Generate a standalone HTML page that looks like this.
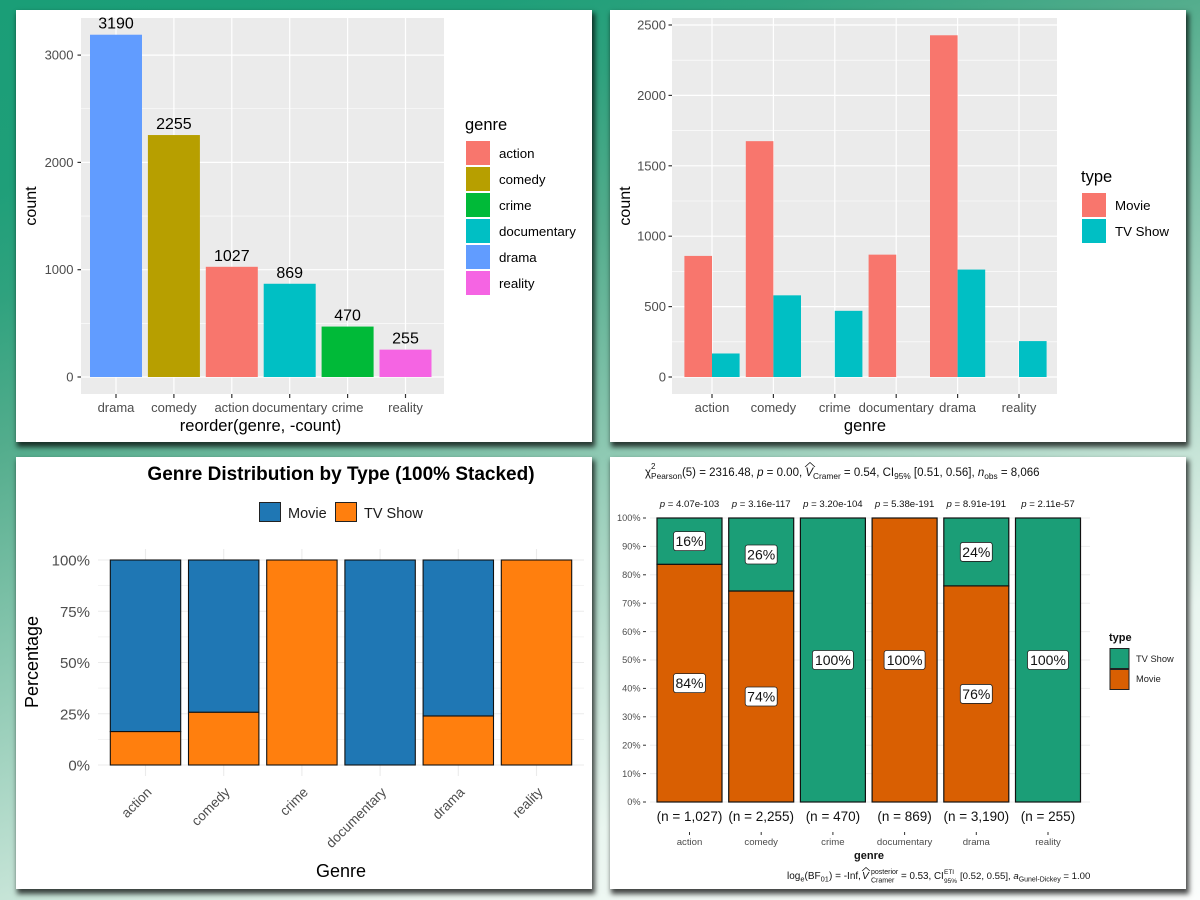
<!DOCTYPE html>
<html lang="en">
<head>
<meta charset="utf-8">
<title>Genre charts</title>
<style>
html,body{margin:0;padding:0;width:1200px;height:900px;overflow:hidden}
body{position:relative;background:linear-gradient(159.4deg,#1a9e77 0%,#1f9f79 14%,#2fa27e 22%,#54ad8d 33.4%,#c6e4d7 66.6%,#eaf6f0 78%,#fbfdfc 100%);font-family:"Liberation Sans",sans-serif}
.panel{position:absolute;background:#fff;width:576px;height:432px;box-shadow:2px 4px 5px 1px rgba(0,0,0,.72)}
svg{position:absolute;left:0;top:0}
text{font-family:"Liberation Sans",sans-serif}
</style>
</head>
<body>
<div class="panel" style="left:16px;top:10px"></div>
<div class="panel" style="left:610px;top:10px"></div>
<div class="panel" style="left:16px;top:457px"></div>
<div class="panel" style="left:610px;top:457px"></div>

<svg id="s" width="1200" height="900" viewBox="0 0 1200 900">
  <g id="c1">
    <rect x="81" y="18" width="363" height="376" fill="#ebebeb"/>
  </g>
  <text x="36" y="206" font-size="16" text-anchor="middle" transform="rotate(-90 36 206)" fill="#000">count</text>
  <text x="260.500" y="431" font-size="16.500" text-anchor="middle" fill="#000">reorder(genre, -count)</text>
  <text x="465" y="130" font-size="16.500" fill="#000">genre</text>
  <g id="l1"></g>

  <g id="c2">
    <rect x="672" y="18" width="385" height="376" fill="#ebebeb"/>
  </g>
  <text x="630" y="206" font-size="16" text-anchor="middle" transform="rotate(-90 630 206)" fill="#000">count</text>
  <text x="865" y="431" font-size="16.500" text-anchor="middle" fill="#000">genre</text>
  <text x="1081" y="182" font-size="16.500" fill="#000">type</text>
  <rect x="1082" y="193" width="24" height="24" fill="#f8766d"/>
  <rect x="1082" y="219" width="24" height="24" fill="#00bfc4"/>
  <text x="1115" y="210" font-size="13.300" fill="#000">Movie</text>
  <text x="1115" y="236" font-size="13.300" fill="#000">TV Show</text>

  <text x="341" y="480" font-size="19" font-weight="bold" text-anchor="middle" fill="#000">Genre Distribution by Type (100% Stacked)</text>
  <rect x="259.500" y="502.500" width="21" height="19" fill="#1f77b4" stroke="#222"/>
  <text x="288" y="518" font-size="14.500" fill="#1a1a1a">Movie</text>
  <rect x="335.500" y="502.500" width="21" height="19" fill="#ff7f0e" stroke="#222"/>
  <text x="364" y="518" font-size="14.500" fill="#1a1a1a">TV Show</text>
  <g id="c3"></g>
  <text x="38" y="662" font-size="18" text-anchor="middle" transform="rotate(-90 38 662)" fill="#000">Percentage</text>
  <text x="341" y="877" font-size="18" text-anchor="middle" fill="#000">Genre</text>

  <text x="645" y="476" font-size="11.500" fill="#111">χ<tspan dy="3" font-size="8.300">Pearson</tspan><tspan dy="-3">(5) = 2316.48, </tspan><tspan font-style="italic">p</tspan> = 0.00, <tspan font-style="italic">V</tspan><tspan dy="3" font-size="8.300">Cramer</tspan><tspan dy="-3"> = 0.54, CI</tspan><tspan dy="3" font-size="8.300">95%</tspan><tspan dy="-3"> [0.51, 0.56], </tspan><tspan font-style="italic">n</tspan><tspan dy="3" font-size="8.300">obs</tspan><tspan dy="-3"> = 8,066</tspan></text>
  <text x="651" y="469" font-size="8" fill="#111">2</text>
  <path d="M805 467 L810 462.500 L815 467" fill="none" stroke="#111" stroke-width=".8"/>
  <g id="c4"></g>
  <text x="869" y="859" font-size="11" font-weight="bold" text-anchor="middle" fill="#111">genre</text>
  <text x="787" y="879" font-size="10" fill="#111">log<tspan dy="2.500" font-size="7.500">e</tspan><tspan dy="-2.500">(BF</tspan><tspan dy="2.500" font-size="7.500">01</tspan><tspan dy="-2.500">) = -Inf,</tspan></text>
  <text x="862" y="879" font-size="10.200" font-style="italic" fill="#111">V</text>
  <text x="871" y="874" font-size="7" fill="#111">posterior</text>
  <text x="871" y="882.500" font-size="7" fill="#111">Cramer</text>
  <text x="901" y="879" font-size="9.800" fill="#111">= 0.53, CI</text>
  <text x="944" y="874" font-size="6.500" fill="#111">ETI</text>
  <text x="944" y="883" font-size="6.500" fill="#111">95%</text>
  <text x="960" y="879" font-size="9.600" fill="#111">[0.52, 0.55], <tspan font-style="italic">a</tspan><tspan dy="2.500" font-size="7">Gunel-Dickey</tspan><tspan dy="-2.500"> = 1.00</tspan></text>
  <path d="M862 871 L866 867.500 L870 871" fill="none" stroke="#111" stroke-width=".7"/>
  <text x="1109" y="641" font-size="11" font-weight="bold" fill="#111">type</text>
  <rect x="1110" y="648.500" width="19" height="20" fill="#1b9e77" stroke="#222"/>
  <rect x="1110" y="669.500" width="19" height="20" fill="#d95f02" stroke="#222"/>
  <text x="1136" y="662" font-size="9.300" fill="#222">TV Show</text>
  <text x="1136" y="682" font-size="9.300" fill="#222">Movie</text>
</svg>

<script>
// Chart 1: counts by genre, ordered by count
const c1Categories = ['drama', 'comedy', 'action', 'documentary', 'crime', 'reality'];
const c1Counts = [3190, 2255, 1027, 869, 470, 255];
const c1YTicks = [0, 1000, 2000, 3000];
const c1YMinor = [500, 1500, 2500];
const c1LegendGenres = ['action', 'comedy', 'crime', 'documentary', 'drama', 'reality'];

// Chart 2: counts by genre and type
const c2Categories = ['action', 'comedy', 'crime', 'documentary', 'drama', 'reality'];
const c2Movie = [860, 1675, 0, 869, 2427, 0];
const c2TvShow = [167, 580, 470, 0, 763, 255];
const c2YTicks = [0, 500, 1000, 1500, 2000, 2500];
const c2YMinor = [250, 750, 1250, 1750, 2250];

// Chart 3: percentage stack
const c3Categories = ['action', 'comedy', 'crime', 'documentary', 'drama', 'reality'];
const c3TvShowPct = [16.3, 25.7, 100, 0, 23.9, 100];
const c3YTicks = [0, 25, 50, 75, 100];
const c3YMinor = [12.5, 37.5, 62.5, 87.5];

// Chart 4: statistics stack
const c4Categories = ['action', 'comedy', 'crime', 'documentary', 'drama', 'reality'];
const c4MoviePct = [83.7, 74.3, 0, 100, 76.1, 0];
const c4PValues = ['4.07e-103', '3.16e-117', '3.20e-104', '5.38e-191', '8.91e-191', '2.11e-57'];
const c4NLabels = ['1,027', '2,255', '470', '869', '3,190', '255'];
const c4YTicks = [0, 10, 20, 30, 40, 50, 60, 70, 80, 90, 100];

const SVGNS = 'http://www.w3.org/2000/svg';
const GENRE_COLORS = {action:'#f8766d', comedy:'#b79f00', crime:'#00ba38', documentary:'#00bfc4', drama:'#619cff', reality:'#f564e3'};

function mk(parent, tag, attrs, txt) {
  const n = document.createElementNS(SVGNS, tag);
  for (const k in attrs) n.setAttribute(k, attrs[k]);
  if (txt !== undefined) n.textContent = txt;
  parent.appendChild(n);
  return n;
}
let el;

/* ---------- chart 1 ---------- */
const g1 = document.getElementById('c1');
const x1 = i => 116 + i * 57.9;
const y1 = v => 377 - v * 0.1073;
c1YMinor.forEach(v => {
  el = mk(g1, 'line', {x1:81, x2:444, y1:y1(v), y2:y1(v), stroke:'#fff', 'stroke-width':.6});
  
  
});
c1YTicks.forEach(v => {
  el = mk(g1, 'line', {x1:81, x2:444, y1:y1(v), y2:y1(v), stroke:'#fff', 'stroke-width':1.2});
  
  
  el = mk(g1, 'line', {x1:77.5, x2:81, y1:y1(v), y2:y1(v), stroke:'#333', 'stroke-width':1.2});
  
  
  el = mk(g1, 'text', {x:73.5, y:y1(v) + 4.5, 'font-size':13, 'text-anchor':'end', fill:'#4d4d4d'}, v);
  
  
});
c1Categories.forEach((c, i) => {
  el = mk(g1, 'line', {x1:x1(i), x2:x1(i), y1:18, y2:394, stroke:'#fff', 'stroke-width':1.2});
  
  
  el = mk(g1, 'line', {x1:x1(i), x2:x1(i), y1:394, y2:398, stroke:'#333', 'stroke-width':1.2});
  
  
  el = mk(g1, 'text', {x:x1(i), y:412, 'font-size':13, 'text-anchor':'middle', fill:'#4d4d4d'}, c);
  
  
});
c1Categories.forEach((c, i) => {
  el = mk(g1, 'rect', {x:x1(i) - 26, y:y1(c1Counts[i]), width:52, height:y1(0) - y1(c1Counts[i]), fill:GENRE_COLORS[c]});
  
  
  el = mk(g1, 'text', {x:x1(i), y:y1(c1Counts[i]) - 6, 'font-size':16, 'text-anchor':'middle', fill:'#000'}, c1Counts[i]);
  
  
});
const l1 = document.getElementById('l1');
c1LegendGenres.forEach((c, i) => {
  el = mk(l1, 'rect', {x:466, y:141 + i * 26, width:24, height:24, fill:GENRE_COLORS[c]});
  
  
  el = mk(l1, 'text', {x:499, y:158 + i * 26, 'font-size':13.3, fill:'#000'}, c);
  
  
});

/* ---------- chart 2 ---------- */
const g2 = document.getElementById('c2');
const x2 = i => 712 + i * 61.4;
const y2 = v => 377 - v * 0.1408;
const W2 = 27.6;
c2YMinor.forEach(v => {
  el = mk(g2, 'line', {x1:672, x2:1057, y1:y2(v), y2:y2(v), stroke:'#fff', 'stroke-width':.6});
  
  
});
c2YTicks.forEach(v => {
  el = mk(g2, 'line', {x1:672, x2:1057, y1:y2(v), y2:y2(v), stroke:'#fff', 'stroke-width':1.2});
  
  
  el = mk(g2, 'line', {x1:668.5, x2:672, y1:y2(v), y2:y2(v), stroke:'#333', 'stroke-width':1.2});
  
  
  el = mk(g2, 'text', {x:666, y:y2(v) + 4.5, 'font-size':13, 'text-anchor':'end', fill:'#4d4d4d'}, v);
  
  
});
c2Categories.forEach((c, i) => {
  el = mk(g2, 'line', {x1:x2(i), x2:x2(i), y1:18, y2:394, stroke:'#fff', 'stroke-width':1.2});
  
  
  el = mk(g2, 'line', {x1:x2(i), x2:x2(i), y1:394, y2:398, stroke:'#333', 'stroke-width':1.2});
  
  
  el = mk(g2, 'text', {x:x2(i), y:412, 'font-size':13, 'text-anchor':'middle', fill:'#4d4d4d'}, c);
  
  
});
c2Categories.forEach((c, i) => {
  if (c2Movie[i] > 0) {
    el = mk(g2, 'rect', {x:x2(i) - W2, y:y2(c2Movie[i]), width:W2, height:y2(0) - y2(c2Movie[i]), fill:'#f8766d'});
    
    
  }
  if (c2TvShow[i] > 0) {
    el = mk(g2, 'rect', {x:x2(i), y:y2(c2TvShow[i]), width:W2, height:y2(0) - y2(c2TvShow[i]), fill:'#00bfc4'});
    
    
  }
});

/* ---------- chart 3 ---------- */
const g3 = document.getElementById('c3');
const x3 = i => 145.5 + i * 78.2;
const y3 = v => 765 - v * 2.05;
c3YMinor.forEach(v => {
  el = mk(g3, 'line', {x1:98, x2:584, y1:y3(v), y2:y3(v), stroke:'#f0f0f0', 'stroke-width':.7});
  
  
});
c3YTicks.forEach(v => {
  el = mk(g3, 'line', {x1:98, x2:584, y1:y3(v), y2:y3(v), stroke:'#ebebeb', 'stroke-width':1.1});
  
  
  el = mk(g3, 'text', {x:90, y:y3(v) + 5.5, 'font-size':15, 'text-anchor':'end', fill:'#4d4d4d'}, v + '%');
  
  
});
c3Categories.forEach((c, i) => {
  el = mk(g3, 'line', {x1:x3(i), x2:x3(i), y1:549, y2:776, stroke:'#ebebeb', 'stroke-width':1.1});
  
  
  const tx = x3(i) + 7, ty = 793;
  el = mk(g3, 'text', {x:tx, y:ty, 'font-size':13.6, 'text-anchor':'end', fill:'#4d4d4d', transform:'rotate(-45 ' + tx + ' ' + ty + ')'}, c);
  
  
});
c3Categories.forEach((c, i) => {
  if (c3TvShowPct[i] < 100) {
    el = mk(g3, 'rect', {x:x3(i) - 35.2, y:y3(100), width:70.4, height:y3(c3TvShowPct[i]) - y3(100), fill:'#1f77b4', stroke:'#111', 'stroke-width':1.1});
    
    
  }
  if (c3TvShowPct[i] > 0) {
    el = mk(g3, 'rect', {x:x3(i) - 35.2, y:y3(c3TvShowPct[i]), width:70.4, height:y3(0) - y3(c3TvShowPct[i]), fill:'#ff7f0e', stroke:'#111', 'stroke-width':1.1});
    
    
  }
});

/* ---------- chart 4 ---------- */
const g4 = document.getElementById('c4');
const x4 = i => 689.5 + i * 71.7;
const y4 = v => 802 - v * 2.84;
const W4 = 65;
function pctLabel(cx, cy, pct) {
  const txt = Math.round(pct) + '%';
  const w = txt.length > 3 ? 41 : 32;
  el = mk(g4, 'rect', {x:cx - w / 2, y:cy - 9.5, width:w, height:19, rx:2.5, fill:'#fff', stroke:'#222', 'stroke-width':.8});
  
  
  el = mk(g4, 'text', {x:cx, y:cy + 5, 'font-size':14, 'text-anchor':'middle', fill:'#111'}, txt);
  
  
}
c4YTicks.forEach(v => {
  el = mk(g4, 'line', {x1:650, x2:1090, y1:y4(v), y2:y4(v), stroke:'#eeeeee', 'stroke-width':1});
  
  
  el = mk(g4, 'line', {x1:643, x2:646, y1:y4(v), y2:y4(v), stroke:'#333', 'stroke-width':1});
  
  
  el = mk(g4, 'text', {x:640.5, y:y4(v) + 3.2, 'font-size':9.2, 'text-anchor':'end', fill:'#4d4d4d'}, v + '%');
  
  
});
c4Categories.forEach((c, i) => {
  const m = c4MoviePct[i];
  const left = x4(i) - W4 / 2;
  if (m > 0) {
    el = mk(g4, 'rect', {x:left, y:y4(m), width:W4, height:y4(0) - y4(m), fill:'#d95f02', stroke:'#111', 'stroke-width':1.2});
    
    
  }
  if (m < 100) {
    el = mk(g4, 'rect', {x:left, y:y4(100), width:W4, height:y4(m) - y4(100), fill:'#1b9e77', stroke:'#111', 'stroke-width':1.2});
    
    
  }
  if (m > 0) pctLabel(x4(i), y4(m / 2), m);
  if (m < 100) pctLabel(x4(i), y4((m + 100) / 2), 100 - m);

  el = mk(g4, 'text', {x:x4(i), y:507, 'font-size':9.6, 'text-anchor':'middle', fill:'#111'});
  
  
  const pSpan = mk(el, 'tspan', {'font-style':'italic'}, 'p');
  
  
  el.appendChild(document.createTextNode(' = ' + c4PValues[i]));

  el = mk(g4, 'text', {x:x4(i), y:821, 'font-size':13.5, 'text-anchor':'middle', fill:'#111'}, '(n = ' + c4NLabels[i] + ')');
  
  
  el = mk(g4, 'line', {x1:x4(i), x2:x4(i), y1:832, y2:835, stroke:'#333', 'stroke-width':1});
  
  
  el = mk(g4, 'text', {x:x4(i), y:845, 'font-size':9.6, 'text-anchor':'middle', fill:'#4d4d4d'}, c);
  
  
});
</script>
</body>
</html>
